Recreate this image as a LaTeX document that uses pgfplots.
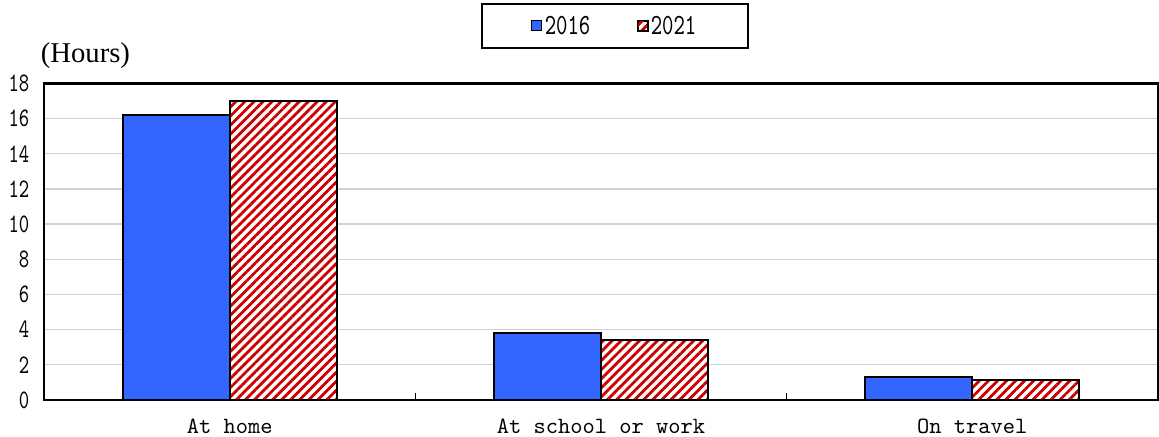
\documentclass[border=0pt]{standalone}
\usepackage{fontspec}
\usepackage{pgfplots}
\pgfplotsset{compat=1.18}
\usetikzlibrary{patterns.meta}
\setmainfont{Liberation Serif}
\newfontfamily\numfont[FakeStretch=0.74, Extension=.otf]{lmmono10-regular}
\newfontfamily\catfont[Extension=.otf]{lmmono10-regular}
\definecolor{barblue}{RGB}{51,102,255}
\definecolor{hatchred}{RGB}{204,0,0}
\definecolor{gridgray}{RGB}{210,210,210}

\begin{document}
\begin{tikzpicture}
\begin{axis}[
  scale only axis,
  width=835.5pt, height=237.4pt,
  xmin=-0.5, xmax=2.5, ymin=0, ymax=18,
  clip=false,
  ytick={0,2,...,18},
  xtick={0,1,2},
  xticklabels={At home, At school or work, On travel},
  xtick pos=bottom, ytick pos=left,
  major tick length=0pt,
  extra x ticks={0.5,1.5},
  extra x tick labels={},
  extra x tick style={grid=none, major tick length=5pt,
    tick style={black, line width=0.8pt}},
  ymajorgrids,
  major grid style={gridgray, line width=1pt},
  axis line style={black, line width=1.6pt},
  /pgf/number format/assume math mode=true,
  yticklabel style={font=\numfont\fontsize{20pt}{20pt}\selectfont, anchor=east, xshift=-7.5pt},
  xticklabel style={font=\catfont\fontsize{17.5pt}{17.5pt}\selectfont, anchor=north, yshift=-11pt},
  legend columns=2,
  legend style={at={(0.5126,1.1817)}, anchor=center, draw=black, line width=1.4pt,
    font=\numfont\fontsize{22pt}{22pt}\selectfont,
    inner xsep=37pt, inner ysep=7pt,
    /tikz/every even column/.append style={column sep=33pt}},
  legend image code/.code={\draw[#1, line width=0.8pt] (0pt,-3.75pt) rectangle (7.5pt,3.75pt);},
]
% 2016
\addplot[ybar, bar width=0.288, bar shift=-0.144, fill=barblue, draw=black, line width=1.5pt]
  coordinates {(0,16.2) (1,3.8) (2,1.3)};
% 2021
\addplot[ybar, bar width=0.288, bar shift=0.144, draw=black, line width=1.5pt,
  preaction={fill=white},
  pattern={Lines[angle=45, distance=4.8pt, line width=2.1pt]}, pattern color=hatchred]
  coordinates {(0,17.0) (1,3.4) (2,1.15)};
\legend{2016,2021}
\node[font=\fontsize{21.5pt}{21.5pt}\selectfont] at (rel axis cs:0.0372,1.0895) {(Hours)};
\coordinate (sw) at (rel axis cs:0,0);
\coordinate (ne) at (rel axis cs:1,1);
\end{axis}
\pgfresetboundingbox
\path ([shift={(-33pt,-27.75pt)}]sw) rectangle ([shift={(0.75pt,62.6pt)}]ne);
\end{tikzpicture}
\end{document}
